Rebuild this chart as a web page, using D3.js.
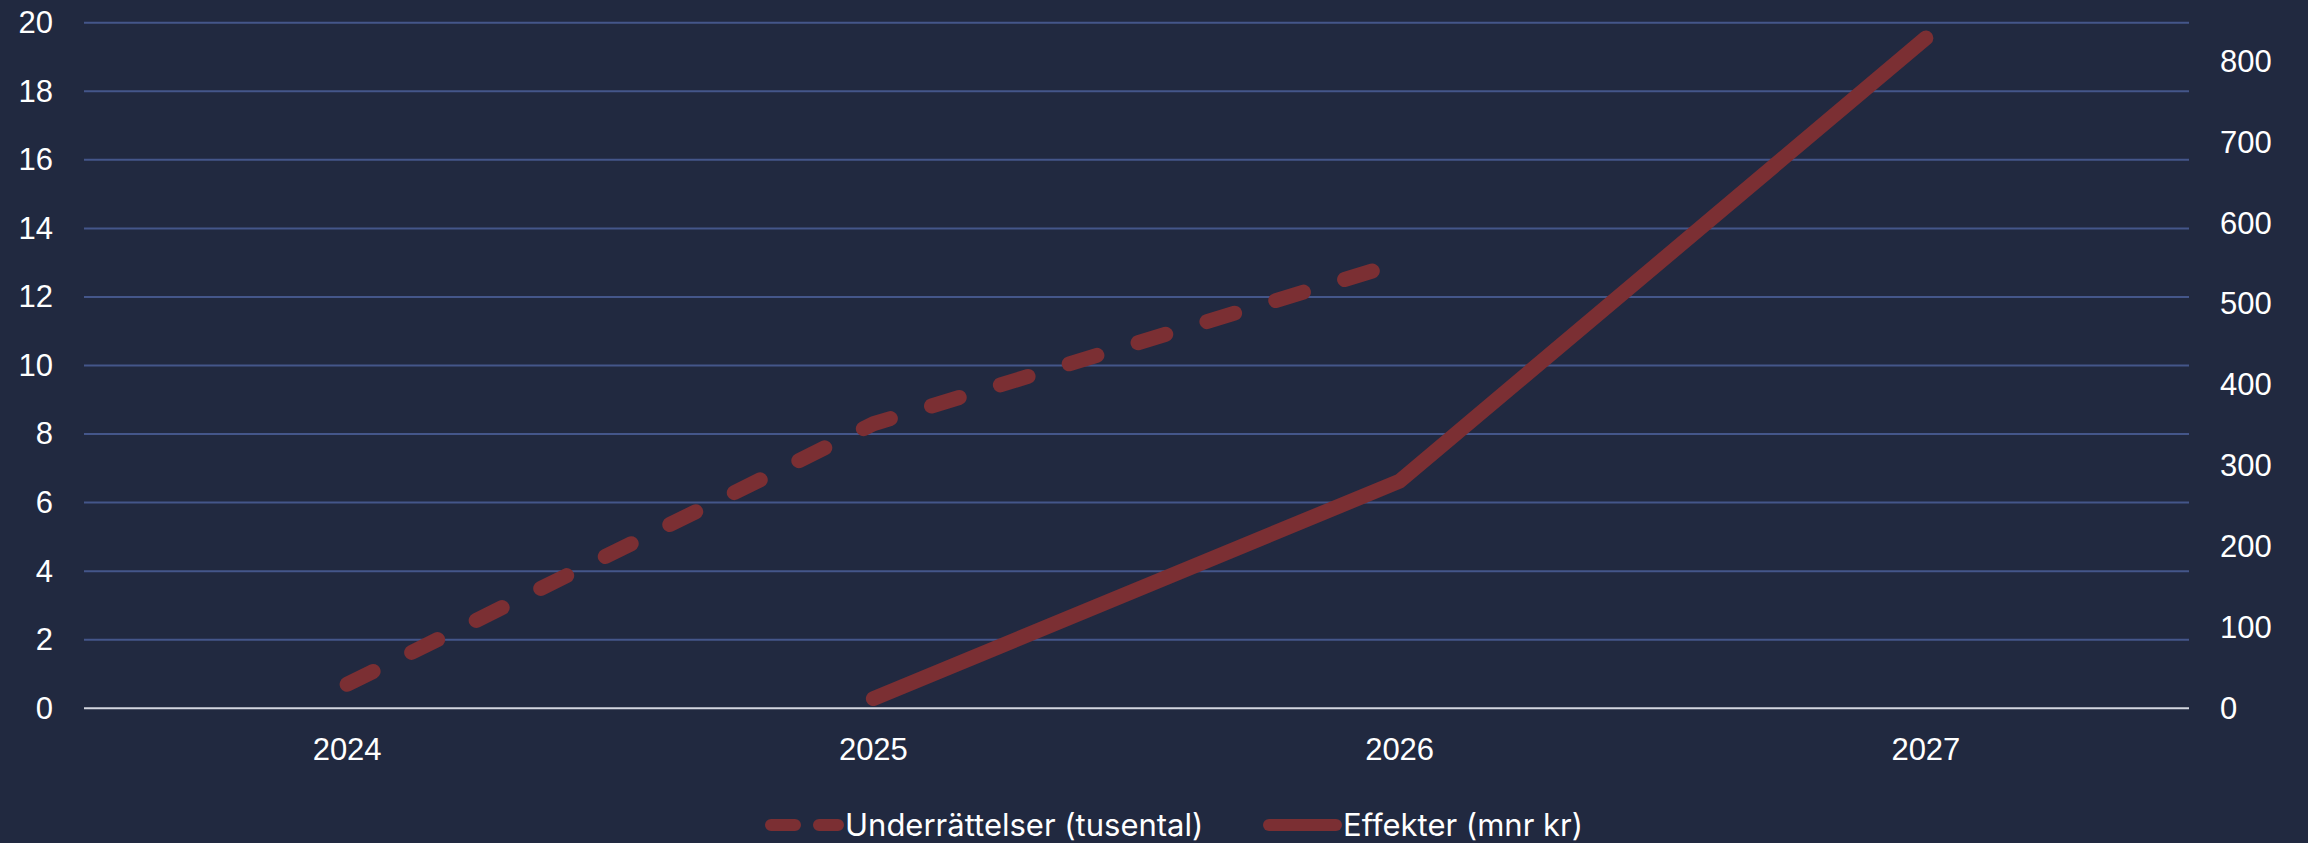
<!DOCTYPE html>
<html lang="sv">
<head>
    <meta charset="UTF-8">
    <title>Underrättelser och effekter</title>
    <script src="https://d3js.org/d3.v7.min.js"></script>
    <style>
        body {
            margin: 0;
            background: #212940;
        }
        svg {
            display: block;
            font-family: Inter, "Liberation Sans", Arial, sans-serif;
        }
        .tick text {
            fill: #ffffff;
            font-size: 31px;
        }
        .legend-text {
            fill: #ffffff;
            font-size: 31px;
        }
    </style>
</head>
<body>
    <svg id="chart"></svg>

    <script>
        // Data
        var years = ["2024", "2025", "2026", "2027"];
        var underrattelser = [0.7, 8.3, 13.0, null];   // tusental, left axis
        var effekter = [null, 12, 281, 829];            // mnr kr, right axis
        var leftTicks = [0, 2, 4, 6, 8, 10, 12, 14, 16, 18, 20];
        var rightTicks = [0, 100, 200, 300, 400, 500, 600, 700, 800];

        var W = 2308, H = 843;
        var plot = { left: 84, right: 2189, top: 22.7, bottom: 708.3 };
        var lineColor = "#7b2f33";

        var svg = d3.select("#chart")
            .attr("width", W)
            .attr("height", H);

        svg.append("rect")
            .attr("width", W)
            .attr("height", H)
            .attr("fill", "#212940");

        // Scales
        var x = d3.scaleBand()
            .domain(years)
            .range([plot.left, plot.right])
            .padding(0);

        var yLeft = d3.scaleLinear()
            .domain([0, 20])
            .range([plot.bottom, plot.top]);

        var yRight = d3.scaleLinear()
            .domain([0, 848])
            .range([plot.bottom, plot.top]);

        // Gridlines
        svg.append("g")
            .selectAll("line")
            .data(leftTicks.filter(d => d > 0))
            .enter().append("line")
            .attr("x1", plot.left)
            .attr("x2", plot.right)
            .attr("y1", d => yLeft(d))
            .attr("y2", d => yLeft(d))
            .attr("stroke", "#44568a")
            .attr("stroke-width", 2);

        // zero line
        svg.append("line")
            .attr("x1", plot.left)
            .attr("x2", plot.right)
            .attr("y1", yLeft(0))
            .attr("y2", yLeft(0))
            .attr("stroke", "#d3d6df")
            .attr("stroke-width", 2);

        // Left axis
        var leftAxis = svg.append("g")
            .attr("transform", "translate(" + (plot.left - 31) + ",0)")
            .call(d3.axisLeft(yLeft).tickValues(leftTicks).tickSize(0).tickPadding(0));
        leftAxis.select(".domain").remove();

        // Right axis
        var rightAxis = svg.append("g")
            .attr("transform", "translate(" + (plot.right + 31) + ",0)")
            .call(d3.axisRight(yRight).tickValues(rightTicks).tickSize(0).tickPadding(0));
        rightAxis.select(".domain").remove();

        // x-axis
        var xAxis = svg.append("g")
            .attr("transform", "translate(0," + (plot.bottom + 29) + ")")
            .call(d3.axisBottom(x).tickSize(0).tickPadding(0));
        xAxis.select(".domain").remove();
        xAxis.selectAll("text").attr("dy", "0.72em");

        // Lines
        var cx = d => x(d) + x.bandwidth() / 2;

        var lineLeft = d3.line()
            .defined(d => d[1] != null)
            .x(d => cx(d[0]))
            .y(d => yLeft(d[1]));

        var lineRight = d3.line()
            .defined(d => d[1] != null)
            .x(d => cx(d[0]))
            .y(d => yRight(d[1]));

        svg.append("path")
            .datum(years.map((y, i) => [y, underrattelser[i]]))
            .attr("fill", "none")
            .attr("stroke", lineColor)
            .attr("stroke-width", 15)
            .attr("stroke-linecap", "round")
            .attr("stroke-linejoin", "round")
            .attr("stroke-dasharray", "29,43")
            .attr("d", lineLeft);

        svg.append("path")
            .datum(years.map((y, i) => [y, effekter[i]]))
            .attr("fill", "none")
            .attr("stroke", lineColor)
            .attr("stroke-width", 15)
            .attr("stroke-linecap", "round")
            .attr("stroke-linejoin", "round")
            .attr("d", lineRight);

        // Legend
        var legend = svg.append("g");
        var legY = 825;

        legend.append("line")
            .attr("x1", 771).attr("x2", 838)
            .attr("y1", legY).attr("y2", legY)
            .attr("stroke", lineColor)
            .attr("stroke-width", 12)
            .attr("stroke-linecap", "round")
            .attr("stroke-dasharray", "24,24");

        legend.append("text")
            .attr("class", "legend-text")
            .attr("x", 845)
            .attr("y", legY)
            .attr("dy", "0.35em")
            .text("Underrättelser (tusental)");

        legend.append("line")
            .attr("x1", 1269).attr("x2", 1336)
            .attr("y1", legY).attr("y2", legY)
            .attr("stroke", lineColor)
            .attr("stroke-width", 12)
            .attr("stroke-linecap", "round");

        legend.append("text")
            .attr("class", "legend-text")
            .attr("x", 1343)
            .attr("y", legY)
            .attr("dy", "0.35em")
            .text("Effekter (mnr kr)");
    </script>
</body>
</html>
